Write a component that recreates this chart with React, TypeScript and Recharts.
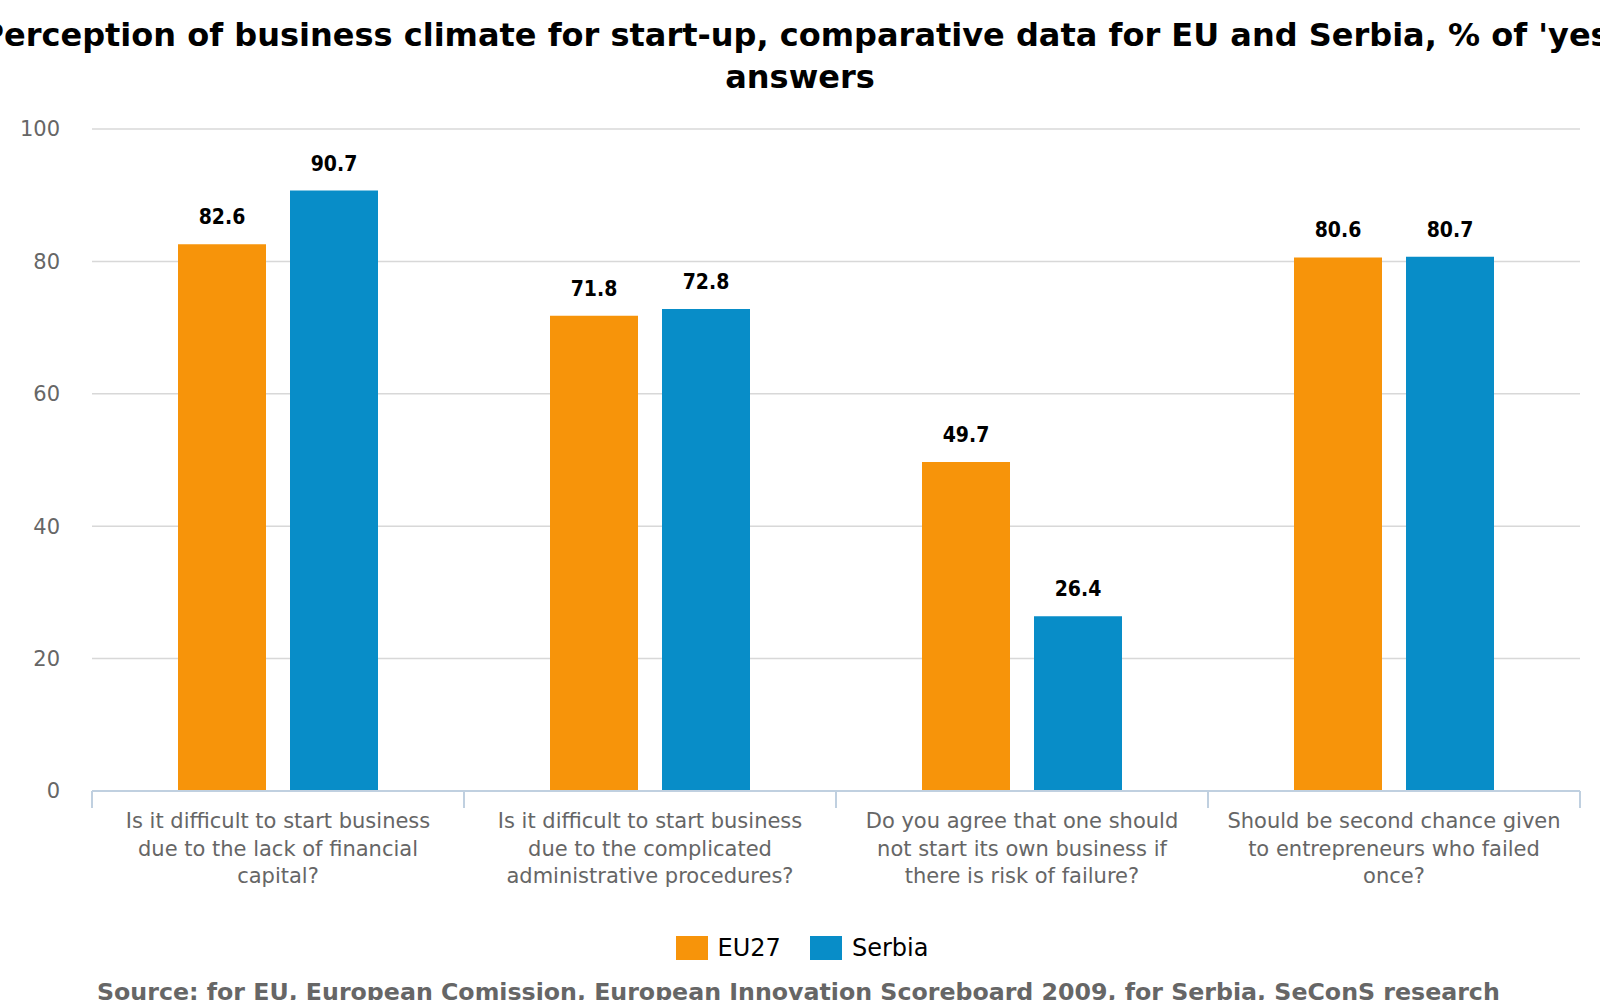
import React from "react";
import {
  BarChart,
  Bar,
  XAxis,
  YAxis,
  CartesianGrid,
  LabelList,
} from "recharts";

const categories = [
  "Is it difficult to start business\ndue to the lack of financial\ncapital?",
  "Is it difficult to start business\ndue to the complicated\nadministrative procedures?",
  "Do you agree that one should\nnot start its own business if\nthere is risk of failure?",
  "Should be second chance given\nto entrepreneurs who failed\nonce?",
];
const eu27 = [82.6, 71.8, 49.7, 80.6];
const serbia = [90.7, 72.8, 26.4, 80.7];
const yTicks = [0, 20, 40, 60, 80, 100];

const seriesNames = ["EU27", "Serbia"];
const seriesColors = ["#F7940A", "#088DC8"];

const titleLines = [
  "Perception of business climate for start-up, comparative data for EU and Serbia, % of 'yes'",
  "answers",
];
const sourceText =
  "Source: for EU, European Comission, European Innovation Scoreboard 2009, for Serbia, SeConS research";

const data = categories.map((c, i) => ({ category: c, eu27: eu27[i], serbia: serbia[i] }));

const FONT = "'DejaVu Sans', Verdana, sans-serif";
const FONT_COND = "'DejaVu Sans Condensed', 'DejaVu Sans', sans-serif";

function CategoryTick(props: any) {
  const { x, y, payload, index, width, visibleTicksCount } = props;
  const band = width && visibleTicksCount ? width / visibleTicksCount : 0;
  const lines = String(payload.value).split("\n");
  return (
    <g>
      {band > 0 && (
        <line x1={x - band / 2} x2={x - band / 2} y1={y} y2={y + 17} stroke="#C0D0E0" strokeWidth={2} />
      )}
      {band > 0 && index === visibleTicksCount - 1 && (
        <line x1={x + band / 2} x2={x + band / 2} y1={y} y2={y + 17} stroke="#C0D0E0" strokeWidth={2} />
      )}
      <text x={x} y={y + 37} textAnchor="middle" fill="#666" fontSize={21} fontFamily={FONT}>
        {lines.map((l, i) => (
          <tspan key={i} x={x} dy={i === 0 ? 0 : 27.5}>
            {l}
          </tspan>
        ))}
      </text>
    </g>
  );
}

export default function App() {
  return (
    <div
      style={{
        position: "absolute",
        left: 0,
        top: 0,
        width: 1600,
        height: 1000,
        overflow: "hidden",
        background: "#fff",
        fontFamily: FONT,
      }}
    >
      {/* title, wider than the page so it spills over both edges */}
      <div style={{ position: "absolute", left: 0, top: 14, width: 1600 }}>
        {titleLines.map((t, i) => (
          <div
            key={i}
            style={{
              display: "flex",
              justifyContent: "center",
              whiteSpace: "nowrap",
              fontSize: 32,
              fontWeight: "bold",
              lineHeight: "42px",
              color: "#000",
            }}
          >
            <span>{t}</span>
          </div>
        ))}
      </div>

      <div style={{ position: "absolute", left: 0, top: 0 }}>
        <BarChart
          width={1600}
          height={1000}
          data={data}
          margin={{ top: 129, right: 20, bottom: 0, left: 0 }}
          barSize={88}
          barGap={24}
        >
          <CartesianGrid vertical={false} stroke="#D8D8D8" strokeWidth={1.5} />
          <YAxis
            width={92}
            domain={[0, 100]}
            ticks={yTicks}
            axisLine={false}
            tickLine={false}
            tickSize={0}
            tickMargin={32}
            tick={{ fill: "#666", fontSize: 21, fontFamily: FONT }}
          />
          <XAxis
            dataKey="category"
            height={209}
            interval={0}
            tickLine={false}
            tickSize={0}
            tickMargin={0}
            axisLine={{ stroke: "#C0D0E0", strokeWidth: 2 }}
            tick={<CategoryTick />}
          />
          <Bar dataKey="eu27" name={seriesNames[0]} fill={seriesColors[0]} isAnimationActive={false}>
            <LabelList
              dataKey="eu27"
              position="top"
              offset={20}
              style={{ fill: "#000", fontSize: 21, fontWeight: "bold", fontFamily: FONT_COND }}
            />
          </Bar>
          <Bar dataKey="serbia" name={seriesNames[1]} fill={seriesColors[1]} isAnimationActive={false}>
            <LabelList
              dataKey="serbia"
              position="top"
              offset={20}
              style={{ fill: "#000", fontSize: 21, fontWeight: "bold", fontFamily: FONT_COND }}
            />
          </Bar>
        </BarChart>
      </div>

      {/* legend */}
      <div
        style={{
          position: "absolute",
          left: 2,
          top: 933,
          width: 1600,
          display: "flex",
          justifyContent: "center",
          alignItems: "center",
          height: 30,
        }}
      >
        {seriesNames.map((n, i) => (
          <div key={n} style={{ display: "flex", alignItems: "center", marginRight: i === 0 ? 29 : 0 }}>
            <span
              style={{ display: "inline-block", width: 32, height: 24, background: seriesColors[i], marginRight: 10 }}
            />
            <span style={{ fontSize: 24, lineHeight: "30px", color: "#000" }}>{n}</span>
          </div>
        ))}
      </div>

      {/* source */}
      <div
        style={{
          position: "absolute",
          left: 97,
          top: 977,
          whiteSpace: "nowrap",
          fontSize: 23.7,
          fontWeight: "bold",
          lineHeight: "30px",
          color: "#666",
        }}
      >
        {sourceText}
      </div>
    </div>
  );
}
